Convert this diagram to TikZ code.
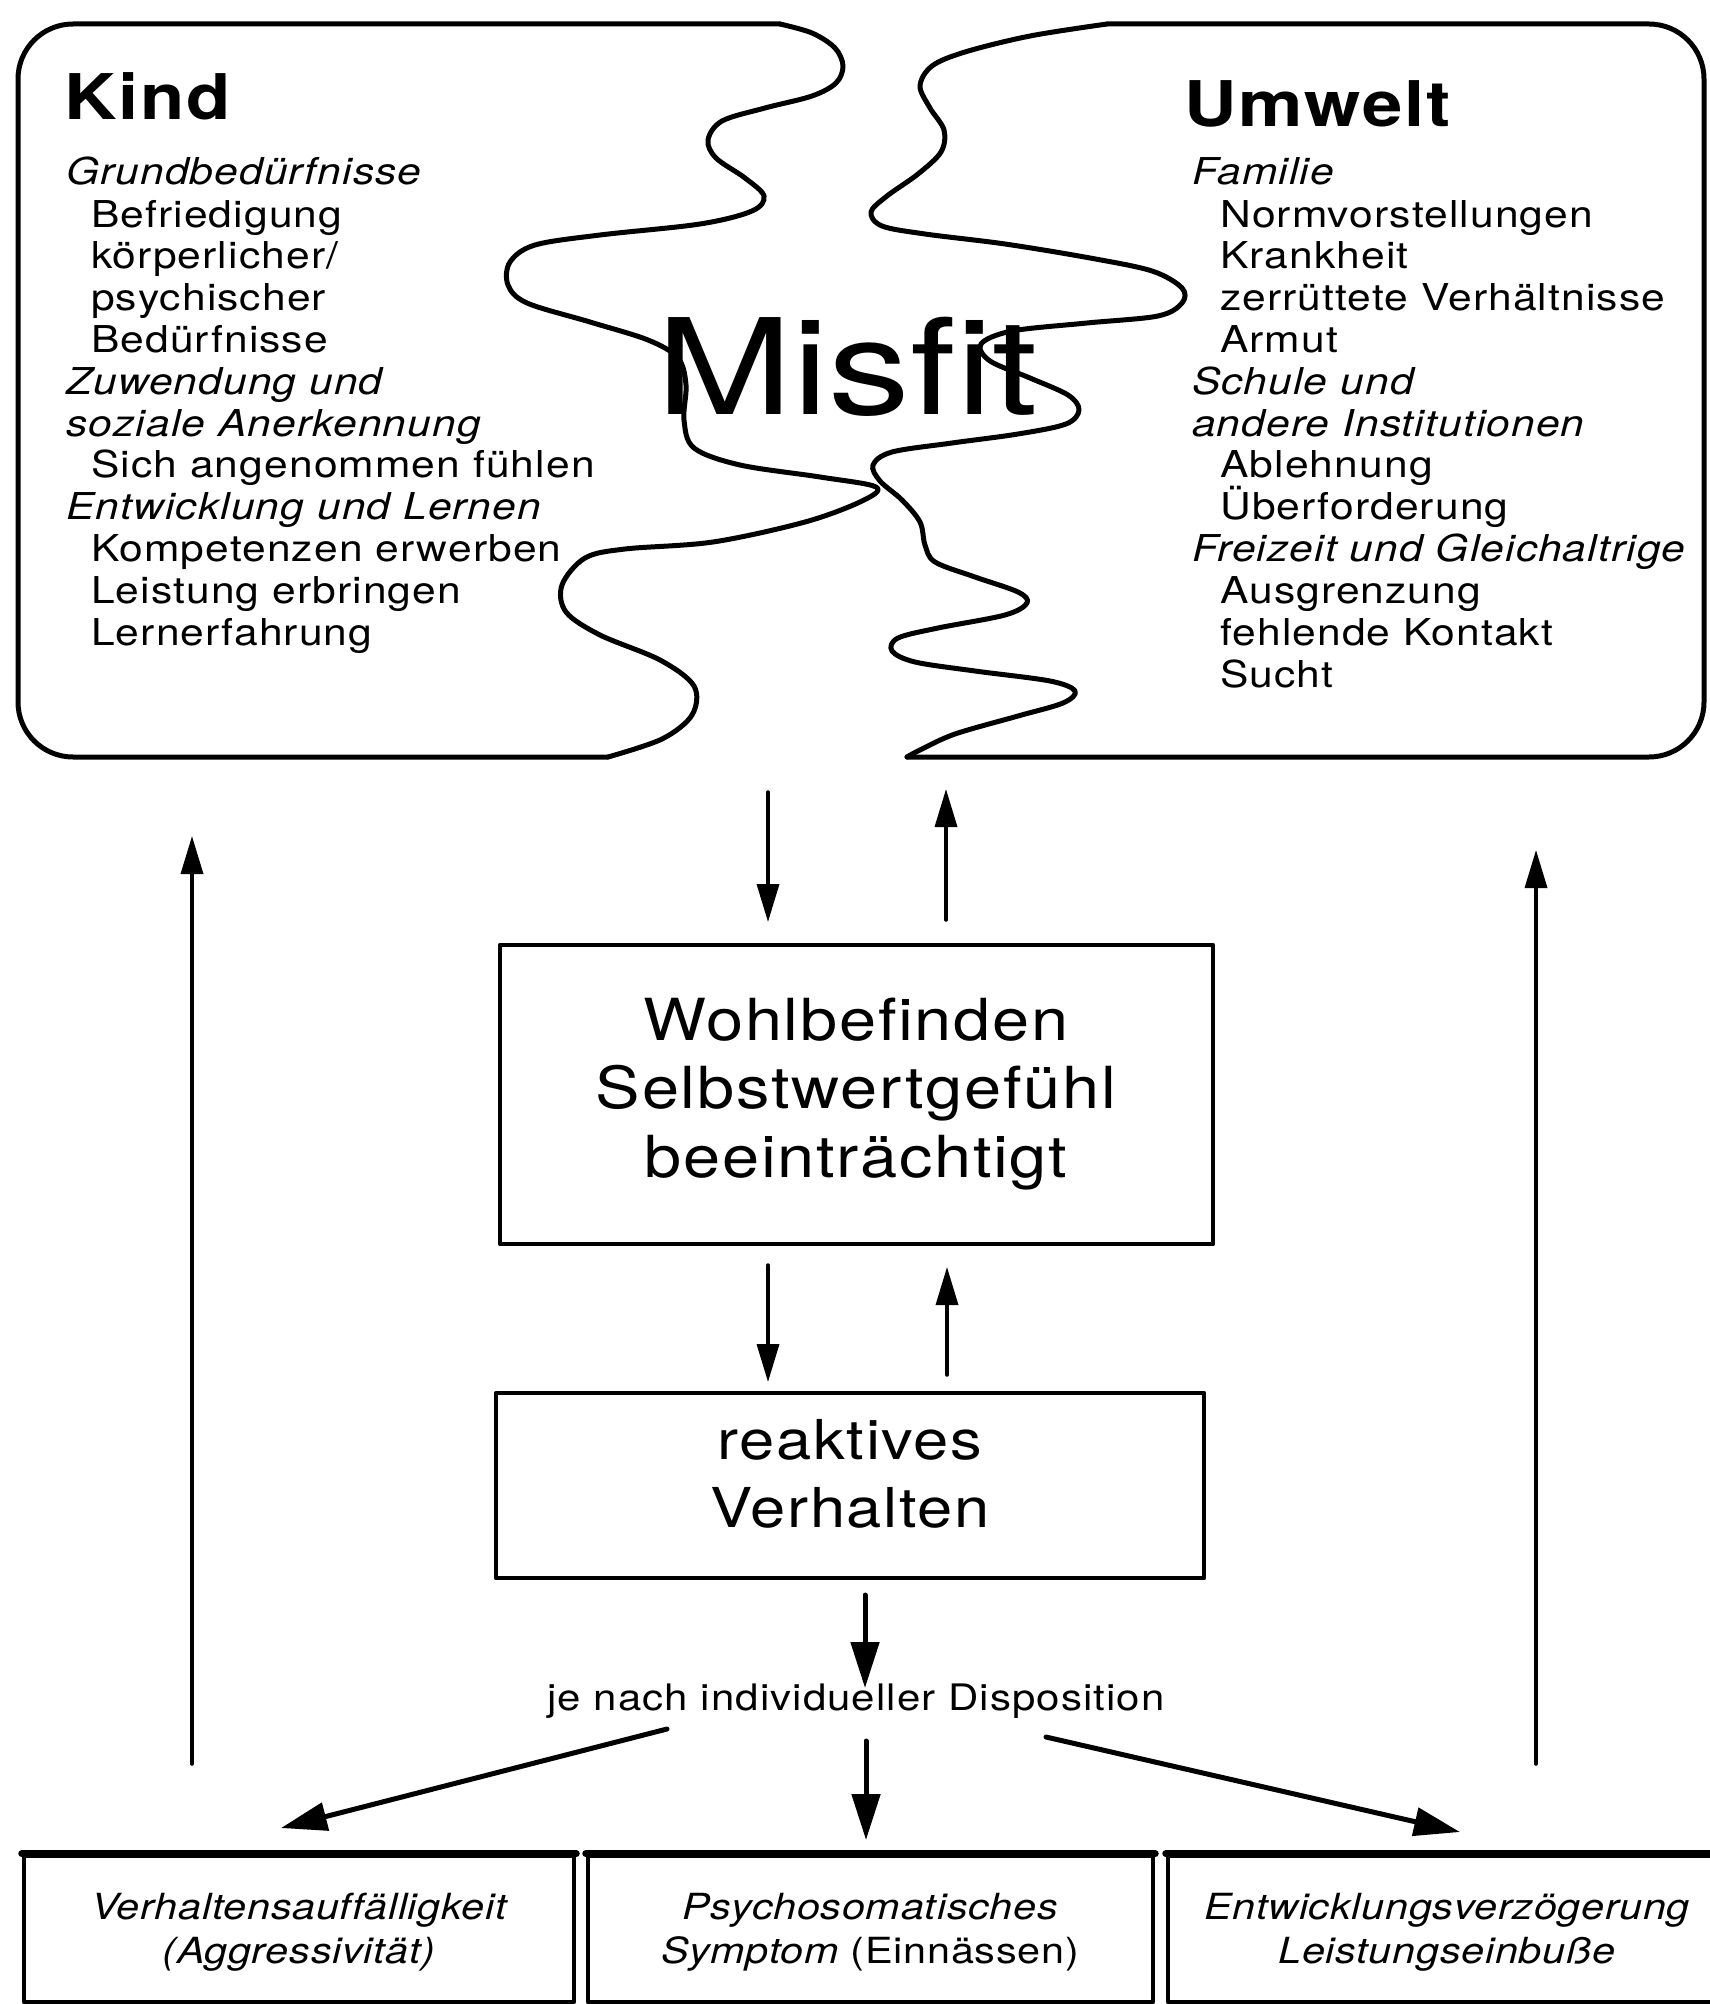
\documentclass[tikz,border=0pt]{standalone}
\usepackage{fontspec}
\setmainfont{TeX Gyre Heros}[FakeStretch=1.15, LetterSpace=3, Ligatures=NoCommon]
\newfontfamily\headfont{TeX Gyre Heros}[FakeStretch=1.15, LetterSpace=3]
\newfontfamily\smallfont{TeX Gyre Heros}[FakeStretch=1.15, LetterSpace=2, Ligatures=NoCommon]
\newfontfamily\misfitfont{TeX Gyre Heros}[FakeStretch=1.23, Ligatures=NoCommon]
\usetikzlibrary{arrows.meta}
\begin{document}
\begin{tikzpicture}[x=1pt,y=-1pt, line join=round, line cap=round,
  blob/.style={line width=5pt},
  kbody/.style={anchor=base west, inner sep=0pt, font=\fontsize{37}{42}\selectfont},
  kcat/.style={anchor=base west, inner sep=0pt, font=\fontsize{37}{42}\selectfont\itshape},
  khead/.style={anchor=base west, inner sep=0pt, font=\headfont\bfseries\fontsize{63}{70}\selectfont},
  kbox/.style={draw, line width=4.5pt, inner sep=0pt},
  ktxt/.style={align=center, inner sep=0pt, font=\fontsize{58}{68.5}\selectfont},
  ksmall/.style={align=center, inner sep=0pt, font=\smallfont\fontsize{36}{44}\selectfont},
  karr/.style={line width=3.5pt, -{Triangle[length=38pt,width=22pt]}},
  kthick/.style={line width=5pt, -{Triangle[length=46pt,width=28pt]}}]

\path[use as bounding box, fill=white] (0,0) rectangle (1709,2004);

% ---- left blob (Kind)
\draw[blob, rounded corners=55pt] (608,757) -- (18,757) -- (18,24) -- (780,24);
\draw[blob] plot[smooth, tension=0.55] coordinates {(780,24) (812,33) (835,48) (843,66) (836,83) (812,96) (765,108) (722,121) (708,140) (716,158) (745,178) (764,196) (752,211) (700,224) (600,235) (535,245) (510,262) (508,285) (527,303) (590,322) (648,340) (678,358) (686,385) (684,420) (694,448) (740,465) (820,477) (876,487) (862,501) (805,522) (713,542) (625,549) (585,558) (562,585) (566,612) (600,635) (660,660) (694,686) (692,715) (662,739) (608,757)};

% ---- right blob (Umwelt)
\draw[blob, rounded corners=55pt] (907,757) -- (1704,757) -- (1704,24) -- (1107,24);
\draw[blob] plot[smooth, tension=0.55] coordinates {(1107,24) (1030,36) (965,52) (932,66) (920,86) (930,108) (944,130) (941,152) (918,174) (887,196) (871,212) (882,226) (925,234) (1005,244) (1090,258) (1152,271) (1182,288) (1182,303) (1158,316) (1087,323) (1012,331) (981,344) (990,361) (1030,378) (1068,395) (1079,410) (1066,424) (1018,434) (952,443) (892,452) (873,465) (880,481) (902,500) (920,522) (925,545) (935,562) (975,577) (1018,592) (1027,603) (1005,615) (938,628) (898,638) (892,651) (915,662) (975,671) (1050,681) (1075,691) (1063,703) (1018,716) (955,734) (920,750) (907,757)};

% ---- Misfit
\node[anchor=base west, inner sep=0pt, font=\misfitfont\fontsize{133}{140}\selectfont] (misfit) at (656,414) {Misfit};

% ---- Kind text
\node[khead] (kind) at (64,120) {Kind};
\node[kcat]  (k1)  at (66,185) {Grundbedürfnisse};
\node[kbody] (k2)  at (91,227) {Befriedigung};
\node[kbody] (k3)  at (91,268) {körperlicher/};
\node[kbody] (k4)  at (91,310) {psychischer};
\node[kbody] (k5)  at (91,352) {Bedürfnisse};
\node[kcat]  (k6)  at (66,394) {Zuwendung und};
\node[kcat]  (k7)  at (66,436) {soziale Anerkennung};
\node[kbody] (k8)  at (91,477) {Sich angenommen fühlen};
\node[kcat]  (k9)  at (66,519) {Entwicklung und Lernen};
\node[kbody] (k10) at (91,561) {Kompetenzen erwerben};
\node[kbody] (k11) at (91,603) {Leistung erbringen};
\node[kbody] (k12) at (91,645) {Lernerfahrung};

% ---- Umwelt text
\node[khead] (umwelt) at (1184,127) {Umwelt};
\node[kcat]  (u1)  at (1192,185) {Familie};
\node[kbody] (u2)  at (1220,227) {Normvorstellungen};
\node[kbody] (u3)  at (1220,268) {Krankheit};
\node[kbody] (u4)  at (1220,310) {zerrüttete Verhältnisse};
\node[kbody] (u5)  at (1220,352) {Armut};
\node[kcat]  (u6)  at (1192,394) {Schule und};
\node[kcat]  (u7)  at (1192,436) {andere Institutionen};
\node[kbody] (u8)  at (1220,477) {Ablehnung};
\node[kbody] (u9)  at (1220,519) {Überforderung};
\node[kcat]  (u10) at (1192,561) {Freizeit und Gleichaltrige};
\node[kbody] (u11) at (1220,603) {Ausgrenzung};
\node[kbody] (u12) at (1220,645) {fehlende Kontakt};
\node[kbody] (u13) at (1220,687) {Sucht};

% ---- middle boxes
\node[kbox, minimum width=713pt, minimum height=299pt] (wb) at (856.5,1094.5) {};
\node[ktxt] (wbt) at (856,1094) {Wohlbefinden\\Selbstwertgefühl\\beeinträchtigt};
\node[kbox, minimum width=708pt, minimum height=185pt] (rv) at (850,1485.5) {};
\node[ktxt, font=\fontsize{55}{68}\selectfont] (rvt) at (850,1474) {reaktives\\Verhalten};

\node[align=center, inner sep=0pt, font=\fontsize{36.5}{44}\selectfont] (disp) at (856,1701) {je nach individueller Disposition};

% ---- bottom boxes
\node[kbox, minimum width=550pt, minimum height=146pt] (ba) at (299,1929) {};
\node[kbox, minimum width=565pt, minimum height=146pt] (bb) at (870.5,1929) {};
\node[kbox, minimum width=547pt, minimum height=146pt] (bc) at (1441.5,1929) {};
\draw[line width=7pt] (ba.north west) -- (ba.north east);
\draw[line width=7pt] (bb.north west) -- (bb.north east);
\draw[line width=7pt] (bc.north west) -- (bc.north east);
\node[ksmall, font=\smallfont\fontsize{36}{44}\selectfont\itshape] (bat) at (299,1932) {Verhaltensauffälligkeit\\(Aggressivität)};
\node[ksmall] (bbt) at (870,1932) {\itshape Psychosomatisches\\\itshape Symptom \upshape(Einnässen)};
\node[ksmall, font=\smallfont\fontsize{36}{44}\selectfont\itshape] (bct) at (1447,1932) {Entwicklungsverzögerung\\Leistungseinbuße};

% ---- connector end points
\coordinate (a1) at (768,792);  \coordinate (a2) at (768,922);
\coordinate (a3) at (946,920);  \coordinate (a4) at (946,789);
\coordinate (a5) at (768,1265); \coordinate (a6) at (768,1382);
\coordinate (a7) at (947,1375); \coordinate (a8) at (947,1267);
\coordinate (a9) at (865,1595); \coordinate (a10) at (865,1688);
\coordinate (l1) at (192,1764); \coordinate (l2) at (192,836);
\coordinate (r1) at (1536,1764); \coordinate (r2) at (1536,850);
\coordinate (d1) at (667,1729); \coordinate (d2) at (281,1828);
\coordinate (m1) at (866,1741); \coordinate (m2) at (866,1840);
\coordinate (e1) at (1046,1737); \coordinate (e2) at (1460,1832);

% ---- connectors
\draw[karr] (a1) -- (a2);
\draw[karr] (a3) -- (a4);
\draw[karr] (a5) -- (a6);
\draw[karr] (a7) -- (a8);
\draw[kthick] (a9) -- (a10);
\draw[karr] (l1) -- (l2);
\draw[karr] (r1) -- (r2);
\draw[kthick] (d1) -- (d2);
\draw[kthick] (m1) -- (m2);
\draw[kthick] (e1) -- (e2);
\end{tikzpicture}
\end{document}
